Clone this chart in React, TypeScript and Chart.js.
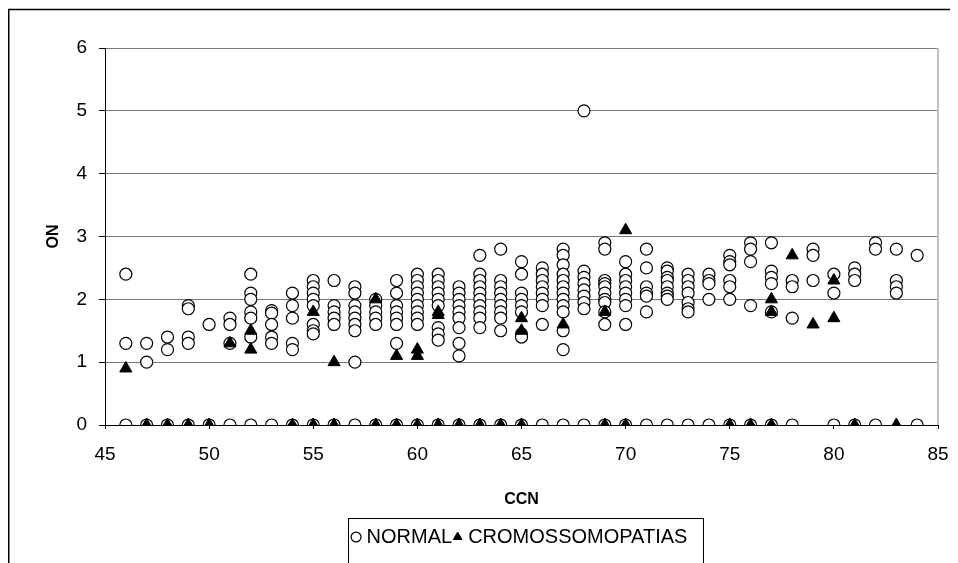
import React, { useEffect, useRef } from "react";
import { Chart, registerables } from "chart.js";

Chart.register(...registerables);

// ---------- data ----------
const NORMAL_CCN = [
  46, 47, 48, 49, 50, 51, 52, 53, 54, 55, 56, 57, 58, 59, 60, 61, 62, 63, 64, 65,
  66, 67, 68, 69, 70, 71, 72, 73, 74, 75, 76, 77, 78, 79, 80, 81, 82, 83, 84,
];
const NORMAL_ON: number[][] = [
  [2.4, 1.3, 0],
  [1.3, 1.0, 0],
  [1.4, 1.2, 0],
  [1.9, 1.85, 1.4, 1.3, 0],
  [1.6, 0],
  [1.7, 1.6, 1.3, 0],
  [2.4, 2.1, 2.0, 1.8, 1.7, 1.4, 0],
  [1.82, 1.78, 1.6, 1.4, 1.3, 0],
  [2.1, 1.9, 1.7, 1.3, 1.2, 0],
  [2.3, 2.2, 2.1, 2.0, 1.9, 1.6, 1.5, 1.45, 0],
  [2.3, 1.9, 1.8, 1.7, 1.6, 0],
  [2.2, 2.1, 1.9, 1.8, 1.7, 1.6, 1.5, 1.0, 0],
  [2.0, 1.9, 1.8, 1.7, 1.6, 0],
  [2.3, 2.1, 1.9, 1.8, 1.7, 1.6, 1.3, 0],
  [2.4, 2.3, 2.2, 2.1, 2.0, 1.9, 1.8, 1.7, 1.6, 0],
  [2.4, 2.3, 2.2, 2.1, 2.0, 1.9, 1.55, 1.45, 1.35, 0],
  [2.2, 2.1, 2.0, 1.9, 1.8, 1.7, 1.55, 1.3, 1.1, 0],
  [2.7, 2.4, 2.3, 2.2, 2.1, 2.0, 1.9, 1.8, 1.7, 1.55, 0],
  [2.8, 2.3, 2.2, 2.1, 2.0, 1.9, 1.8, 1.7, 1.5, 0],
  [2.6, 2.4, 2.1, 2.0, 1.9, 1.8, 1.45, 1.4, 0],
  [2.5, 2.4, 2.3, 2.2, 2.1, 2.0, 1.9, 1.6, 0],
  [2.8, 2.7, 2.55, 2.4, 2.3, 2.2, 2.1, 2.0, 1.9, 1.8, 1.5, 1.2, 0],
  [5.0, 2.45, 2.35, 2.25, 2.15, 2.05, 1.95, 1.85, 0],
  [2.9, 2.8, 2.3, 2.25, 2.2, 2.1, 2.0, 1.95, 1.8, 1.6, 0],
  [2.6, 2.4, 2.3, 2.2, 2.1, 2.0, 1.9, 1.6, 0],
  [2.8, 2.5, 2.2, 2.1, 2.05, 1.8, 0],
  [2.5, 2.45, 2.35, 2.3, 2.2, 2.1, 2.05, 2.0, 0],
  [2.4, 2.3, 2.2, 2.1, 1.95, 1.85, 1.8, 0],
  [2.4, 2.3, 2.25, 2.0, 0],
  [2.7, 2.6, 2.55, 2.3, 2.2, 2.0, 0],
  [2.9, 2.8, 2.6, 1.9, 0],
  [2.9, 2.45, 2.35, 2.25, 1.8, 0],
  [2.3, 2.2, 1.7, 0],
  [2.8, 2.7, 2.3],
  [2.4, 2.1, 0],
  [2.5, 2.4, 2.3, 0],
  [2.9, 2.8, 0],
  [2.8, 2.3, 2.2, 2.1],
  [2.7, 0],
];

const CHROMO_CCN = [
  46, 47, 48, 49, 50, 51, 52, 54, 55, 56, 58, 59, 60, 61, 62, 63, 64, 65, 67, 69,
  70, 75, 76, 77, 78, 79, 80, 81, 83,
];
const CHROMO_ON: number[][] = [
  [0.9],
  [0],
  [0],
  [0],
  [0],
  [1.3],
  [1.5, 1.2],
  [0],
  [1.8, 0],
  [1.0, 0],
  [2.0, 0],
  [1.1, 0],
  [1.2, 1.1, 0],
  [1.8, 1.75, 0],
  [0],
  [0],
  [0],
  [1.7, 1.5, 0],
  [1.6],
  [1.8, 0],
  [3.1, 0],
  [0],
  [0],
  [2.0, 1.8, 0],
  [2.7],
  [1.6],
  [2.3, 1.7],
  [0],
  [0],
];

const SERIES_NAMES = ["NORMAL", "CROMOSSOMOPATIAS"];
const X_TITLE = "CCN";
const Y_TITLE = "ON";
const X_MIN = 45;
const X_MAX = 85;
const X_STEP = 5;
const Y_MIN = 0;
const Y_MAX = 6;
const Y_STEP = 1;

const FONT = "'Liberation Sans', Arial, sans-serif";

function toPoints(ccn: number[], on: number[][]) {
  const pts: { x: number; y: number }[] = [];
  ccn.forEach((c, i) => on[i].forEach((v) => pts.push({ x: c, y: v })));
  return pts;
}

const framePlugin = {
  id: "framePlugin",
  afterDraw(chart: any) {
    const { ctx, chartArea, legend } = chart;
    ctx.save();
    // outer chart border (left + top)
    ctx.strokeStyle = "#000";
    ctx.lineWidth = 1.5;
    ctx.beginPath();
    ctx.moveTo(0.75, chart.height + 10);
    ctx.lineTo(0.75, 1.5);
    ctx.lineTo(chart.width + 10, 1.5);
    ctx.stroke();
    // plot area right border
    ctx.strokeStyle = "#c0c0c0";
    ctx.lineWidth = 2;
    ctx.beginPath();
    ctx.moveTo(chartArea.right, chartArea.top);
    ctx.lineTo(chartArea.right, chartArea.bottom);
    ctx.stroke();
    // legend box
    const hb = legend && legend.legendHitBoxes;
    if (hb && hb.length) {
      const first = hb[0];
      const last = hb[hb.length - 1];
      const l = Math.round(first.left - 8) + 0.5;
      const t = Math.round(first.top - 9) + 0.5;
      const r = Math.round(last.left + last.width + 16) + 0.5;
      ctx.strokeStyle = "#000";
      ctx.lineWidth = 1;
      ctx.strokeRect(l, t, r - l, chart.height + 20 - t);
    }
    ctx.restore();
  },
};

export default function App() {
  const ref = useRef<HTMLCanvasElement | null>(null);

  useEffect(() => {
    if (!ref.current) return;

    const chart = new Chart(ref.current, {
      type: "scatter",
      data: {
        datasets: [
          {
            label: SERIES_NAMES[0],
            data: toPoints(NORMAL_CCN, NORMAL_ON),
            pointStyle: "circle",
            pointRadius: 6,
            pointBorderWidth: 1.2,
            backgroundColor: "#ffffff",
            borderColor: "#000000",
            order: 1,
          },
          {
            label: SERIES_NAMES[1],
            data: toPoints(CHROMO_CCN, CHROMO_ON),
            pointStyle: "triangle",
            pointRadius: 7,
            pointBorderWidth: 1,
            backgroundColor: "#000000",
            borderColor: "#000000",
            order: 0,
          },
        ],
      },
      options: {
        responsive: false,
        animation: false,
        devicePixelRatio: 1,
        events: [],
        layout: { padding: { left: 32, right: 30, top: 40, bottom: 26 } },
        plugins: {
          tooltip: { enabled: false },
          legend: {
            position: "bottom",
            fullSize: false,
            labels: {
              usePointStyle: true,
              boxWidth: 1,
              boxHeight: 7,
              padding: 5,
              color: "#000",
              font: { family: FONT, size: 20 },
              sort: (a: any, b: any) => a.datasetIndex - b.datasetIndex,
            },
          },
        },
        scales: {
          x: {
            type: "linear",
            min: X_MIN,
            max: X_MAX,
            afterFit: (s: any) => {
              s.height = 97;
            },
            ticks: {
              stepSize: X_STEP,
              color: "#000",
              padding: 14,
              maxRotation: 0,
              font: { family: FONT, size: 19 },
            },
            grid: {
              drawOnChartArea: false,
              drawTicks: true,
              tickLength: 4,
              tickColor: "#000",
            },
            border: { display: true, color: "#000", width: 1 },
            title: {
              display: true,
              text: X_TITLE,
              color: "#000",
              font: { family: FONT, size: 16, weight: "bold" },
              padding: { top: 0, bottom: 13 },
            },
          },
          y: {
            type: "linear",
            min: Y_MIN,
            max: Y_MAX,
            afterFit: (s: any) => {
              s.width = 65;
            },
            ticks: {
              stepSize: Y_STEP,
              color: "#000",
              padding: 12,
              font: { family: FONT, size: 19 },
            },
            grid: {
              color: "#777777",
              lineWidth: 1,
              drawTicks: true,
              tickLength: 6,
              tickColor: "#000",
            },
            border: { display: true, color: "#000", width: 1 },
            title: {
              display: true,
              text: Y_TITLE,
              color: "#000",
              font: { family: FONT, size: 16, weight: "bold" },
              padding: { top: 4, bottom: 0 },
            },
          },
        },
      },
      plugins: [framePlugin],
    });
    return () => chart.destroy();
  }, []);

  return (
    <div style={{ width: 950, height: 555, overflow: "hidden", position: "relative" }}>
      <canvas ref={ref} width={960} height={575} style={{ display: "block" }} />
    </div>
  );
}
